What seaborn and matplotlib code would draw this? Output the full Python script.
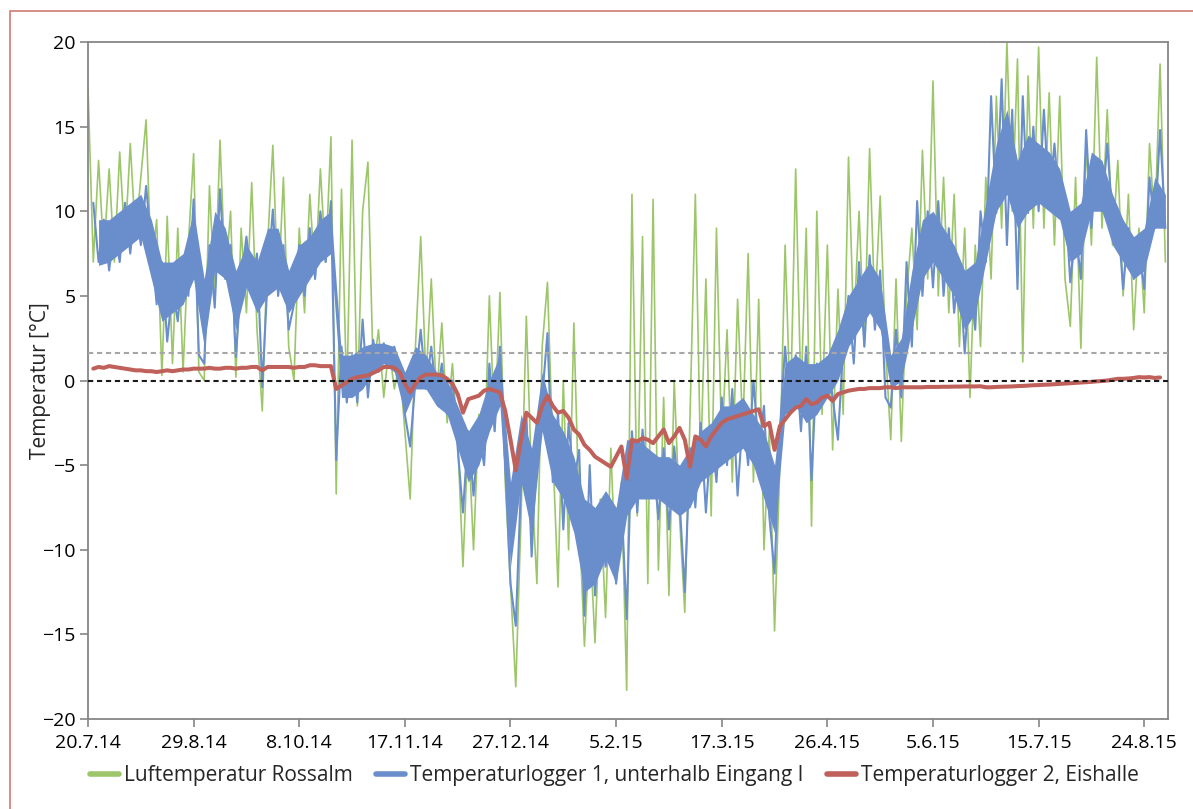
import numpy as np
import pandas as pd
import seaborn as sns
import matplotlib.pyplot as plt
from matplotlib.lines import Line2D
from matplotlib.patches import Rectangle

# Zeitachse: Messwerte im 2-Tage-Raster ab 20.7.14
start = pd.Timestamp('2014-07-20')
step_days = 2
band_step_days = 4
span_days = 409

tick_labels = ['20.7.14', '29.8.14', '8.10.14', '17.11.14', '27.12.14', '5.2.15',
               '17.3.15', '26.4.15', '5.6.15', '15.7.15', '24.8.15']
tick_step_days = 40

series_names = ['Luftemperatur Rossalm',
                'Temperaturlogger 1, unterhalb Eingang I',
                'Temperaturlogger 2, Eishalle']

# Luftemperatur Rossalm (2-Tage-Schritte)
luft = [
    17.3, 7.0, 13.0, 7.5, 12.5, 7.0, 13.5, 8.0, 14.0, 8.5,
    12.0, 15.4, 6.5, 9.5, 0.3, 9.7, 1.0, 9.0, 0.5, 8.0,
    13.4, 0.5, 0.0, 11.5, 5.0, 14.2, 6.0, 10.0, 0.2, 9.0,
    4.0, 11.7, 3.0, -1.8, 8.0, 13.9, 5.0, 12.0, 2.0, 0.0,
    9.0, 4.0, 11.0, 6.0, 12.5, 7.0, 14.4, -6.7, 11.3, -1.0,
    14.2, -1.5, 10.0, 12.9, 0.5, 3.0, -1.0, 2.0, -0.5, 1.0,
    -3.0, -7.0, 2.0, 8.5, 0.0, 6.0, -1.0, 3.4, -2.5, 1.0,
    -3.4, -11.0, -3.0, -10.0, -2.0, -5.0, 5.0, -3.0, 5.2, -6.0,
    -12.0, -18.1, -8.0, 3.8, -6.0, -12.0, 2.0, 5.8, -4.0, -12.2,
    0.0, -10.0, 3.4, -8.0, -15.7, -9.0, -15.5, -7.0, -14.0, -4.0,
    -12.0, -6.0, -18.3, 11.0, -8.0, 8.5, -12.0, 10.7, -11.2, -1.0,
    -12.7, 0.0, -8.0, -13.7, -2.0, 11.0, -5.0, 6.0, -8.0, 9.0,
    -4.0, 3.0, -6.0, 4.8, -3.0, 7.5, -6.0, 4.8, -10.0, -3.0,
    -14.8, -5.0, 8.0, -2.0, 12.5, -1.0, 9.0, -8.6, 10.0, -2.0,
    8.0, -4.1, 5.4, -2.0, 13.2, 3.0, 10.0, 2.0, 13.7, 4.0,
    10.9, 2.0, -3.5, 6.0, -3.6, 5.0, 9.0, 3.0, 13.6, 6.0,
    17.7, 5.0, 12.0, 4.0, 11.0, 2.0, 9.0, -1.0, 8.0, 2.0,
    12.0, 6.0, 16.8, 9.0, 20.0, 10.0, 19.0, 1.1, 18.0, 9.0,
    19.7, 9.0, 17.0, 8.0, 16.8, 6.0, 3.2, 12.0, 1.9, 14.0,
    8.0, 19.1, 9.0, 16.0, 8.0, 13.0, 5.0, 11.0, 3.0, 9.0,
    4.0, 14.0, 9.0, 18.7, 7.0,
]

# Temperaturlogger 1, unterhalb Eingang I: Ausreisser/Spitzen (2-Tage-Schritte)
logger1 = [
    np.nan, 10.5, 7.0, 9.5, 6.5, 9.0, 7.0, 10.5, 7.5, 10.5,
    8.0, 11.5, 8.0, 4.5, 7.0, 2.3, 5.5, 3.5, 7.0, 5.0,
    10.7, 1.5, 1.0, 8.0, 4.3, 11.3, 6.0, 8.0, 1.4, 6.0,
    8.5, 5.5, 7.5, -0.4, 6.0, 10.1, 5.0, 8.0, 3.0, 4.5,
    8.0, 5.0, 9.0, 6.0, 10.0, 7.0, 10.6, -4.7, 2.0, -1.3,
    1.5, -1.3, 3.6, -1.0, 2.4, 0.5, 2.2, 1.0, 2.0, 0.5,
    -2.0, -3.9, 0.0, 3.0, -0.5, 2.0, -1.0, 1.0, -2.0, 0.0,
    -4.0, -7.8, -3.0, -6.8, -2.9, -5.0, 1.0, -3.0, 2.0, -5.0,
    -12.0, -14.5, -6.0, -1.9, -10.4, -4.0, -1.0, 2.8, -6.0, -1.9,
    -8.8, -2.5, -6.0, -4.1, -13.9, -5.0, -12.7, -7.4, -11.0, -8.0,
    -12.0, -7.0, -14.1, -3.0, -7.8, -2.9, -6.5, -4.5, -8.2, -4.0,
    -8.8, -3.9, -7.0, -12.5, -4.0, -7.5, -2.5, -7.8, -3.0, -6.0,
    -1.0, -5.0, -0.5, -6.8, -2.0, -5.0, 0.0, -4.0, -1.5, -8.0,
    -11.4, -3.0, 2.0, -1.9, 1.5, -3.0, 2.0, -5.9, 1.0, -1.0,
    1.4, -1.0, -3.5, 2.0, 5.0, 1.0, 7.0, 2.0, 7.4, 3.0,
    6.5, -1.0, -1.6, 3.0, -1.0, 7.0, 2.0, 10.6, 5.0, 10.0,
    5.5, 10.6, 5.0, 9.0, 4.0, 7.0, 1.6, 6.0, 3.0, 10.0,
    7.0, 16.8, 9.9, 17.8, 8.0, 16.0, 5.4, 16.8, 9.9, 15.0,
    10.0, 16.0, 10.5, 14.0, 9.9, 10.9, 5.8, 9.0, 6.0, 14.8,
    9.0, 13.0, 10.0, 14.0, 9.5, 9.7, 5.4, 9.0, 6.0, 8.0,
    5.4, 12.0, 9.0, 14.8, 9.0,
]

# Temperaturlogger 1: Kern der Tagesschwankung (unten, oben), 4-Tage-Schritte
logger1_low = [
    np.nan, 6.8, 7.0, 7.5, 8.0, 8.5, 6.0, 3.5, 4.0, 4.5,
    6.0, 2.0, 6.5, 6.0, 3.0, 5.5, 4.0, 5.0, 5.5, 4.0,
    5.0, 6.0, 7.0, 7.5, -1.0, -1.0, -0.5, 0.5, 1.0, 0.5,
    -2.0, -0.5, -0.5, -1.5, -2.0, -4.0, -6.0, -5.0, -3.0, -1.5,
    -11.0, -6.0, -9.0, -3.0, -6.0, -7.0, -9.0, -12.5, -12.0, -10.5,
    -12.0, -8.0, -7.0, -7.0, -7.0, -7.5, -8.0, -7.5, -6.0, -5.5,
    -5.0, -4.5, -4.0, -5.0, -7.0, -9.0, -2.0, -1.5, -2.5, -2.0,
    -1.0, 0.0, 2.0, 3.0, 4.0, 3.0, -0.5, 0.0, 3.0, 6.0,
    7.0, 6.0, 5.0, 3.0, 4.0, 7.0, 10.0, 11.0, 9.0, 10.0,
    10.5, 10.0, 9.5, 7.0, 7.5, 10.0, 10.0, 8.0, 7.0, 6.0,
    6.5, 9.0, 9.0,
]
logger1_high = [
    np.nan, 9.5, 9.5, 10.0, 10.5, 11.0, 9.5, 7.0, 7.0, 7.5,
    10.0, 6.0, 10.0, 9.0, 6.5, 8.0, 7.0, 9.0, 9.0, 6.5,
    8.0, 8.5, 9.5, 10.0, 1.5, 1.5, 2.0, 2.2, 2.2, 2.0,
    0.5, 2.0, 1.5, 0.5, 0.0, -1.5, -3.0, -2.0, 0.0, 1.5,
    -6.0, -2.0, -4.0, 0.5, -2.0, -3.0, -4.5, -7.0, -7.5, -6.5,
    -7.5, -3.5, -3.5, -4.0, -4.5, -4.5, -5.0, -4.0, -3.0, -2.5,
    -1.5, -1.5, -1.0, -2.0, -3.0, -5.0, 1.0, 1.5, 1.0, 1.0,
    1.5, 3.0, 5.0, 6.0, 7.0, 6.0, 1.5, 2.5, 6.5, 9.5,
    10.0, 9.0, 8.0, 6.5, 7.0, 10.5, 14.0, 16.0, 13.0, 14.5,
    14.0, 13.5, 12.5, 10.0, 10.5, 13.5, 13.0, 11.0, 9.5, 8.5,
    9.0, 12.0, 11.0,
]

# Temperaturlogger 2, Eishalle
logger2 = [
    np.nan, 0.7, 0.8, 0.75, 0.85, 0.8, 0.75, 0.7, 0.65, 0.6,
    0.6, 0.55, 0.55, 0.5, 0.55, 0.6, 0.55, 0.6, 0.65, 0.65,
    0.7, 0.7, 0.7, 0.75, 0.7, 0.7, 0.75, 0.75, 0.7, 0.75,
    0.75, 0.8, 0.8, 0.6, 0.8, 0.8, 0.8, 0.8, 0.8, 0.75,
    0.8, 0.8, 0.9, 0.9, 0.85, 0.85, 0.85, -0.5, -0.3, -0.1,
    0.1, 0.2, 0.25, 0.3, 0.45, 0.6, 0.8, 0.8, 0.75, 0.5,
    -0.2, -0.7, -0.2, 0.2, 0.35, 0.35, 0.35, 0.3, 0.1, -0.2,
    -0.8, -1.9, -1.1, -1.0, -0.9, -0.6, -0.5, -0.6, -0.7, -1.8,
    -3.5, -5.3, -3.5, -1.9, -2.2, -2.5, -1.5, -0.9, -1.5, -1.9,
    -1.8, -2.2, -2.9, -3.2, -3.8, -4.1, -4.5, -4.7, -4.9, -5.1,
    -4.5, -3.9, -5.8, -3.5, -3.6, -3.4, -3.5, -3.7, -3.3, -2.9,
    -3.7, -3.3, -2.8, -3.5, -5.1, -3.3, -3.5, -3.9, -3.3, -2.9,
    -2.5, -2.3, -2.2, -2.1, -2.0, -1.9, -1.8, -1.7, -2.7, -2.5,
    -4.1, -2.7, -2.3, -1.9, -1.6, -1.5, -1.1, -1.4, -1.3, -1.0,
    -0.9, -1.2, -0.8, -0.7, -0.6, -0.55, -0.5, -0.5, -0.45, -0.45,
    -0.45, -0.4, -0.4, -0.45, -0.4, -0.4, -0.4, -0.4, -0.4, -0.38,
    -0.38, -0.38, -0.37, -0.37, -0.36, -0.36, -0.35, -0.35, -0.35, -0.34,
    -0.4, -0.4, -0.38, -0.37, -0.36, -0.35, -0.33, -0.32, -0.3, -0.28,
    -0.27, -0.25, -0.24, -0.22, -0.2, -0.18, -0.16, -0.14, -0.12, -0.1,
    -0.08, -0.05, -0.03, 0.0, 0.05, 0.1, 0.1, 0.12, 0.15, 0.2,
    0.18, 0.2, 0.15, 0.18, np.nan,
]

grey_line = 1.6   # graue gestrichelte Linie
colors = ['#9DC66B', '#6A8ECB', '#C0605A']
widths = [1.2, 1.5, 2.9]


def as_frame(values, step):
    n = len(values)
    df = pd.DataFrame({
        'datum': start + pd.to_timedelta(np.arange(n) * step, unit='D'),
        'temp': values,
    })
    return df.dropna().reset_index(drop=True)


sns.set_style('white')
plt.rcParams['font.family'] = ['Open Sans', 'DejaVu Sans']

W, H = 1193, 809
fig = plt.figure(figsize=(W / 100, H / 100), dpi=100)
ax = fig.add_axes([88 / W, 1 - 719 / H, (1168 - 88) / W, (719 - 42) / H])

sns.lineplot(data=as_frame(luft, step_days), x='datum', y='temp', color=colors[0],
             lw=widths[0], estimator=None, sort=False, ax=ax, legend=False)

band = pd.DataFrame({
    'datum': start + pd.to_timedelta(np.arange(len(logger1_low)) * band_step_days, unit='D'),
    'low': logger1_low,
    'high': logger1_high,
}).dropna()
ax.fill_between(band['datum'], band['low'], band['high'], color=colors[1], lw=0, zorder=2)
sns.lineplot(data=as_frame(logger1, step_days), x='datum', y='temp', color=colors[1],
             lw=widths[1], estimator=None, sort=False, ax=ax, legend=False, zorder=2)

sns.lineplot(data=as_frame(logger2, step_days), x='datum', y='temp', color=colors[2],
             lw=widths[2], estimator=None, sort=False, ax=ax, legend=False, zorder=3)

ax.axhline(grey_line, color='#A6A6A6', lw=1.5, ls=(0, (2.5, 1.8)), zorder=5)
ax.axhline(0, color='#1A1A1A', lw=1.5, ls=(0, (2.5, 1.8)), zorder=5)

ax.set_xlim(start, start + pd.Timedelta(days=span_days))
ax.set_ylim(-20, 20)
ax.set_yticks(range(-20, 21, 5))
tick_dates = [start + pd.Timedelta(days=tick_step_days * k) for k in range(len(tick_labels))]
ax.set_xticks(tick_dates)
ax.set_xticklabels(tick_labels)
ax.set_xlabel('')
ax.set_ylabel('Temperatur [°C]', fontsize=15)
ax.yaxis.set_label_coords(-0.034, 0.5)

for sp in ax.spines.values():
    sp.set_color('#868686')
    sp.set_linewidth(1.3)
ax.tick_params(axis='both', direction='out', length=6, width=1.2, color='#868686',
               labelsize=14, labelcolor='black')
ax.tick_params(axis='x', pad=5, bottom=True)
ax.tick_params(axis='y', pad=3, left=True)

handles = [Line2D([], [], color=c, lw=4) for c in colors]
fig.legend(handles, series_names, loc='center', bbox_to_anchor=(0.515, 0.041),
           ncol=3, frameon=False, fontsize=15, handlelength=1.4,
           handletextpad=0.25, columnspacing=1.1)

# roter Rahmen (oben und links sichtbar)
fig.add_artist(Rectangle((10 / W, -0.5), 2, (1 - 11 / H) + 0.5, transform=fig.transFigure,
                         fill=False, ec='#D07A76', lw=1.2))

fig.savefig('out.png', dpi=100)
